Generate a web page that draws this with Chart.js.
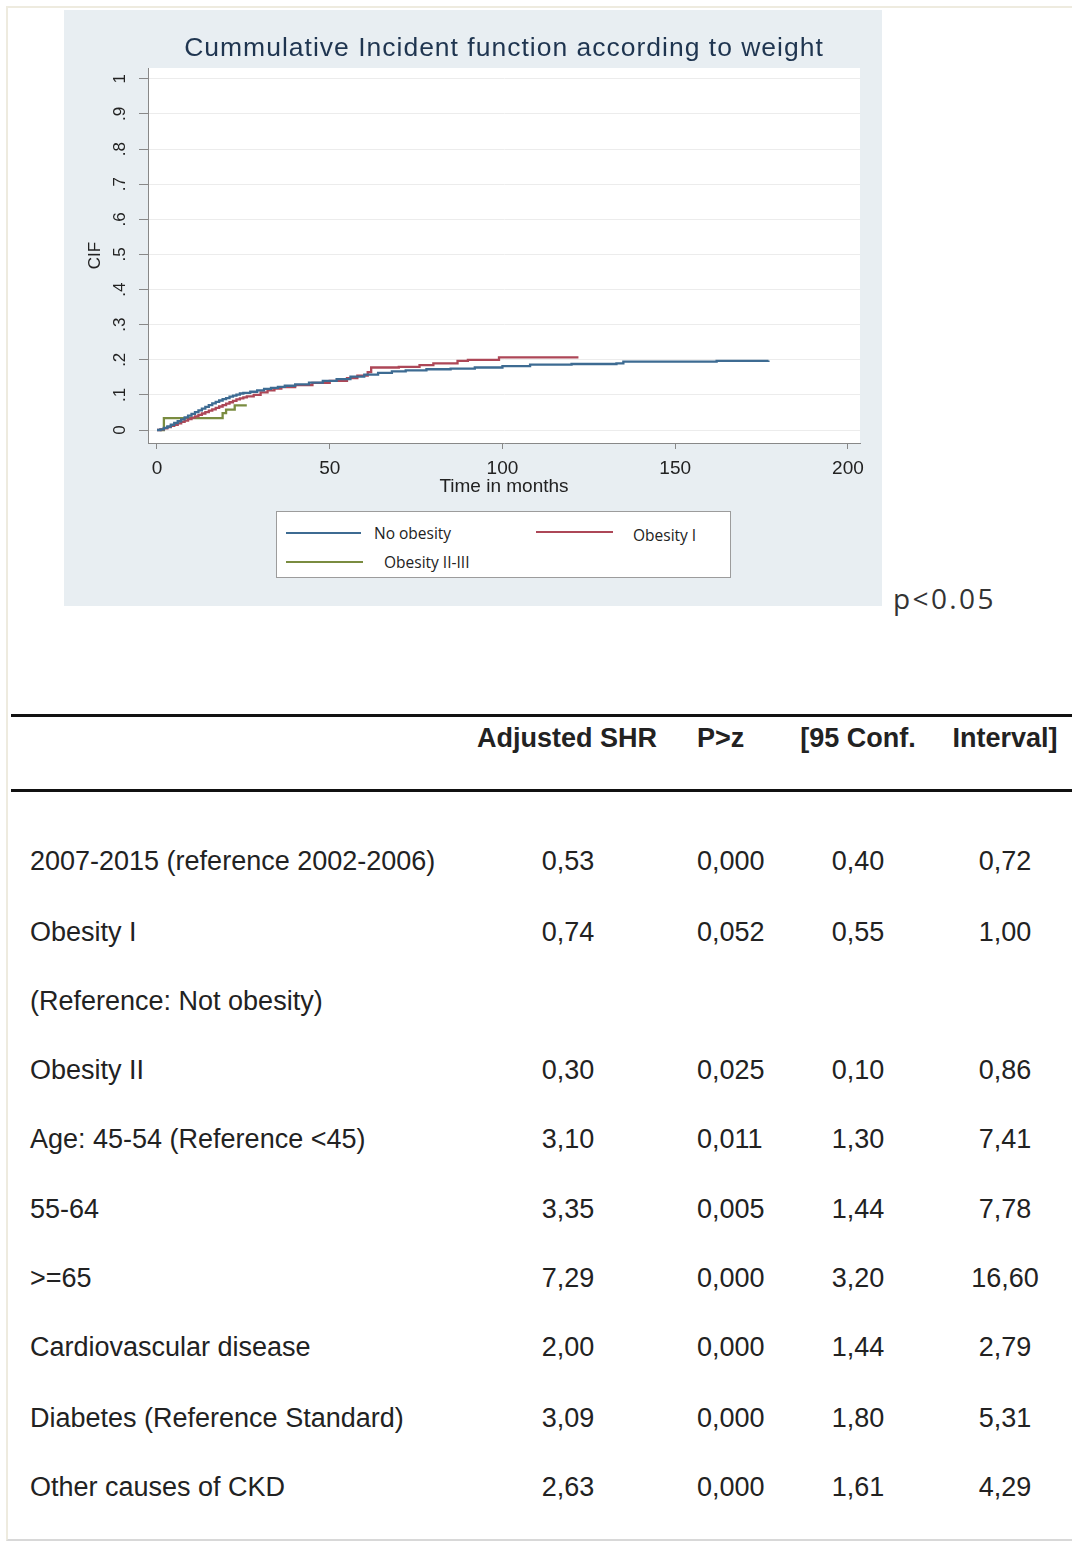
<!DOCTYPE html>
<html>
<head>
<meta charset="utf-8">
<script src="https://cdn.jsdelivr.net/npm/chart.js@4.4.1/dist/chart.umd.min.js"></script>
<style>
  body { margin: 0; background: #fff; width: 1072px; height: 1541px; position: relative; overflow: hidden;
         font-family: "Liberation Sans", Arial, sans-serif; color: #222; }
  #frame { position: absolute; left: 6px; top: 6px; width: 1080px; height: 1531px;
           border-left: 2px solid #eeebdf; border-top: 2px solid #eeebdf; border-bottom: 2px solid #d8d8d8; }
  #panel { position: absolute; left: 64px; top: 10px; width: 818px; height: 596px; background: #e8eef2; }
  #panel canvas { position: absolute; left: 0; top: 0; }
  #legend { position: absolute; left: 276px; top: 511px; width: 453px; height: 65px;
            border: 1.5px solid #9c9c9c; background: #fff; }
  .lg-line { position: absolute; height: 2px; }
  .lg-text { position: absolute; font-family: "Open Sans", sans-serif; font-size: 15.5px; color: #222;
             height: 20px; line-height: 20px; }
  #pval { position: absolute; left: 893px; top: 580px; font-family: "Open Sans", sans-serif; font-size: 28px;
          letter-spacing: 2.4px; color: #333; line-height: 36px; }
  .rule { position: absolute; left: 11px; width: 1061px; height: 3px; background: #111; }
  .cell { position: absolute; height: 40px; line-height: 40px; font-size: 27px; white-space: nowrap; color: #222; }
  .c { transform: translateX(-50%); }
  .b { font-weight: bold; }
</style>
</head>
<body>
<div id="frame"></div>
<div id="panel"><canvas id="cif" width="818" height="596"></canvas></div>
<div id="legend"></div>
<div id="pval">p&lt;0.05</div>
<div class="rule" style="top:714px"></div>
<div class="rule" style="top:789px"></div>
<div id="table"></div>

<script>
// curves (months, cumulative incidence)
const noObesityTime = [0, 1, 2, 3, 4, 5, 6, 7, 8, 9, 10, 11, 12, 13, 14, 15, 16, 17, 18, 19, 20, 21, 22, 23, 24, 25, 27, 29, 31, 33, 35, 37, 40, 44, 48, 52, 56, 60, 64, 68, 72, 78, 85, 92, 100, 108, 120, 133, 135, 162, 177];
const noObesityCif = [0, 0.002, 0.006, 0.01, 0.015, 0.02, 0.025, 0.03, 0.036, 0.041, 0.046, 0.051, 0.056, 0.061, 0.066, 0.071, 0.076, 0.08, 0.084, 0.088, 0.091, 0.095, 0.098, 0.101, 0.104, 0.106, 0.109, 0.113, 0.117, 0.12, 0.123, 0.126, 0.13, 0.135, 0.14, 0.145, 0.152, 0.158, 0.163, 0.167, 0.17, 0.173, 0.175, 0.178, 0.182, 0.186, 0.188, 0.19, 0.195, 0.197, 0.198];

const obesityITime = [0, 1, 2, 3, 4, 5, 6, 7, 8, 9, 10, 11, 12, 13, 14, 15, 16, 17, 18, 19, 20, 21, 22, 23, 24, 25, 26, 28, 30, 32, 34, 36, 40, 45, 50, 55, 58, 61, 62, 70, 76, 80, 87, 90, 99, 122];
const obesityICif = [0, 0.002, 0.005, 0.008, 0.012, 0.015, 0.019, 0.023, 0.027, 0.031, 0.035, 0.039, 0.043, 0.047, 0.051, 0.055, 0.059, 0.063, 0.067, 0.071, 0.075, 0.079, 0.083, 0.087, 0.09, 0.093, 0.096, 0.1, 0.107, 0.113, 0.118, 0.122, 0.128, 0.134, 0.14, 0.148, 0.155, 0.165, 0.178, 0.18, 0.185, 0.19, 0.197, 0.2, 0.207, 0.207];

const obesityIIITime = [1, 2, 19, 20, 22.5, 26];
const obesityIIICif = [0, 0.034, 0.048, 0.058, 0.07, 0.07];

const seriesLabels = ['No obesity', 'Obesity I', 'Obesity II-III'];
const seriesColors = ['#3d6b92', '#ad4757', '#7a8c40'];

const xTicks = [0, 50, 100, 150, 200];
const yTicks = [0, 0.1, 0.2, 0.3, 0.4, 0.5, 0.6, 0.7, 0.8, 0.9, 1];
const yTickLabels = ['0', '.1', '.2', '.3', '.4', '.5', '.6', '.7', '.8', '.9', '1'];

// table below the plot
const tableHeader = ['Adjusted SHR', 'P>z', '[95 Conf.', 'Interval]'];
const rowLabels = ['2007-2015 (reference 2002-2006)', 'Obesity I', '(Reference: Not obesity)', 'Obesity II',
  'Age: 45-54 (Reference <45)', '55-64', '>=65', 'Cardiovascular disease', 'Diabetes (Reference Standard)', 'Other causes of CKD'];
const shrValues = ['0,53', '0,74', '', '0,30', '3,10', '3,35', '7,29', '2,00', '3,09', '2,63'];
const pValues = ['0,000', '0,052', '', '0,025', '0,011', '0,005', '0,000', '0,000', '0,000', '0,000'];
const ciLow = ['0,40', '0,55', '', '0,10', '1,30', '1,44', '3,20', '1,44', '1,80', '1,61'];
const ciHigh = ['0,72', '1,00', '', '0,86', '7,41', '7,78', '16,60', '2,79', '5,31', '4,29'];

const fam = '"Liberation Sans", Arial, sans-serif';
const toPoints = (xs, ys) => xs.map((x, i) => ({ x: x, y: ys[i] }));

const plotBackground = {
  id: 'plotBackground',
  beforeDraw(chart) {
    const a = chart.chartArea, c = chart.ctx;
    c.save();
    c.fillStyle = '#ffffff';
    c.fillRect(a.left, a.top, a.right - a.left, a.bottom - a.top);
    c.restore();
  }
};

const plotTitle = {
  id: 'plotTitle',
  afterDraw(chart) {
    const a = chart.chartArea, c = chart.ctx;
    c.save();
    c.font = '26.5px ' + fam;
    c.letterSpacing = '1px';
    c.fillStyle = '#1f3550';
    c.textAlign = 'center';
    c.textBaseline = 'middle';
    c.fillText('Cummulative Incident function according to weight', (a.left + a.right) / 2, 39);
    c.restore();
  }
};

const chart = new Chart(document.getElementById('cif'), {
  type: 'line',
  data: {
    datasets: [
      { label: seriesLabels[0], data: toPoints(noObesityTime, noObesityCif) },
      { label: seriesLabels[1], data: toPoints(obesityITime, obesityICif) },
      { label: seriesLabels[2], data: toPoints(obesityIIITime, obesityIIICif) }
    ].map((d, i) => Object.assign(d, {
      borderColor: seriesColors[i], borderWidth: 2.3, stepped: true, pointRadius: 0, fill: false
    }))
  },
  options: {
    responsive: false,
    animation: false,
    layout: { padding: { left: 0, top: 58, right: 22, bottom: 103 } },
    plugins: { legend: { display: false }, tooltip: { enabled: false } },
    scales: {
      x: {
        type: 'linear', min: -2.6, max: 203.5,
        afterBuildTicks: s => { s.ticks = xTicks.map(v => ({ value: v })); },
        afterFit: s => { s.height = 60; },
        ticks: { font: { family: fam, size: 19 }, color: '#222', padding: 8, maxRotation: 0 },
        grid: { drawOnChartArea: false, tickLength: 6, tickColor: '#888' },
        border: { color: '#888' },
        title: { display: true, text: 'Time in months', color: '#222',
                 font: { family: fam, size: 19 }, padding: { top: 0, bottom: 5 } }
      },
      y: {
        min: -0.037, max: 1.031,
        afterBuildTicks: s => { s.ticks = yTicks.map(v => ({ value: v })); },
        afterFit: s => { s.width = 84; },
        ticks: { font: { family: fam, size: 17 }, color: '#222', padding: 12,
                 minRotation: 90, maxRotation: 90, crossAlign: 'center',
                 callback: (v, i) => yTickLabels[i] },
        grid: { color: '#ececec', tickLength: 9, tickColor: '#888' },
        border: { color: '#888' },
        title: { display: true, text: 'CIF', color: '#222',
                 font: { family: fam, size: 17 }, padding: { top: 21, bottom: 0 } }
      }
    }
  },
  plugins: [plotBackground, plotTitle]
});

// legend, two columns like the original
const legendSlots = [
  { line: [9, 84, 20], text: [97, 11] },
  { line: [259, 336, 19], text: [356, 13] },
  { line: [9, 86, 49], text: [107, 40] }
];
const legend = document.getElementById('legend');
chart.data.datasets.forEach((ds, i) => {
  const s = legendSlots[i];
  const ln = document.createElement('div');
  ln.className = 'lg-line';
  ln.style.cssText = `left:${s.line[0]}px;width:${s.line[1] - s.line[0]}px;top:${s.line[2]}px;background:${ds.borderColor}`;
  const tx = document.createElement('div');
  tx.className = 'lg-text';
  tx.style.cssText = `left:${s.text[0]}px;top:${s.text[1]}px`;
  tx.textContent = ds.label;
  legend.appendChild(ln);
  legend.appendChild(tx);
});

// regression table
const table = document.getElementById('table');
function cell(text, x, y, centred, bold) {
  const d = document.createElement('div');
  d.className = 'cell' + (centred ? ' c' : '') + (bold ? ' b' : '');
  d.style.left = x + 'px';
  d.style.top = (y - 20) + 'px';
  d.textContent = text;
  table.appendChild(d);
}
cell(tableHeader[0], 567, 738, true, true);
cell(tableHeader[1], 697, 738, false, true);
cell(tableHeader[2], 858, 738, true, true);
cell(tableHeader[3], 1005, 738, true, true);
const rowY = [861, 932, 1001, 1070, 1139, 1209, 1278, 1347, 1418, 1487];
rowLabels.forEach((lab, i) => {
  const y = rowY[i];
  cell(lab, 30, y, false, false);
  if (shrValues[i]) cell(shrValues[i], 568, y, true, false);
  if (pValues[i]) cell(pValues[i], 697, y, false, false);
  if (ciLow[i]) cell(ciLow[i], 858, y, true, false);
  if (ciHigh[i]) cell(ciHigh[i], 1005, y, true, false);
});
</script>
</body>
</html>
